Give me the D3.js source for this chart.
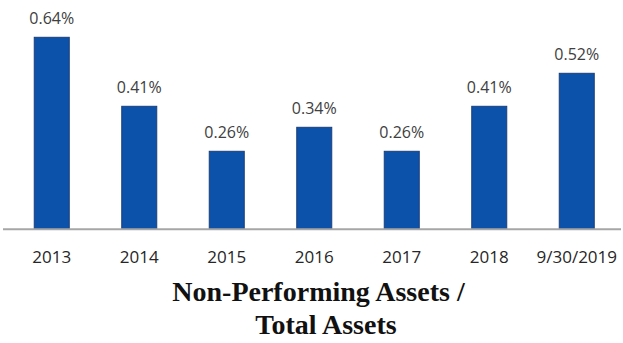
<!DOCTYPE html>
<html>
<head>
<meta charset="utf-8">
<script src="https://cdn.jsdelivr.net/npm/d3@7"></script>
<style>
  html, body { margin: 0; padding: 0; background: #fff; }
  svg { display: block; }
</style>
</head>
<body>
<svg id="chart" width="623" height="343"></svg>
<script>
// Non-performing assets as a share of total assets
const categories = ["2013", "2014", "2015", "2016", "2017", "2018", "9/30/2019"];
const ratios = [0.64, 0.41, 0.26, 0.34, 0.26, 0.41, 0.52];
const titleLines = ["Non-Performing Assets /", "Total Assets"];

const svg = d3.select("#chart");
const baseY = 229.3;

const x = d3.scaleBand()
  .domain(categories)
  .range([8, 620.5])
  .paddingInner(0.6)
  .paddingOuter(0.3);

const y = d3.scaleLinear()
  .domain([0, 0.7])
  .range([baseY, baseY - 0.7 * 300]);

// bars
svg.append("g")
  .selectAll("rect")
  .data(categories)
  .join("rect")
  .attr("x", (d) => x(d))
  .attr("width", x.bandwidth())
  .attr("y", (d, i) => y(ratios[i]))
  .attr("height", (d, i) => y(0) - y(ratios[i]))
  .attr("fill", "#0c52aa")
  .attr("stroke", "#1b3f78")
  .attr("stroke-width", 1);

// value labels
svg.append("g")
  .selectAll("text")
  .data(categories)
  .join("text")
  .attr("x", (d) => x(d) + x.bandwidth() / 2)
  .attr("y", (d, i) => y(ratios[i]) - 13)
  .attr("text-anchor", "middle")
  .attr("font-family", "'Open Sans', sans-serif")
  .attr("font-size", 16)
  .attr("fill", "#404040")
  .text((d, i) => d3.format(".2f")(ratios[i]) + "%");

// category axis
const axis = svg.append("g")
  .attr("transform", `translate(0,${baseY})`)
  .call(d3.axisBottom(x).tickSize(0).tickPadding(22));
axis.select(".domain")
  .attr("d", "M3,0H621")
  .attr("stroke", "#a6a6a6")
  .attr("stroke-width", 2);
axis.selectAll(".tick text")
  .attr("font-family", "'Open Sans', sans-serif")
  .attr("font-size", 17)
  .attr("fill", "#262626");

// title
svg.append("g")
  .selectAll("text")
  .data(titleLines)
  .join("text")
  .attr("x", (d, i) => i === 0 ? 318.5 : 326)
  .attr("y", (d, i) => 301 + i * 33)
  .attr("text-anchor", "middle")
  .attr("font-family", "'Liberation Serif', 'Times New Roman', serif")
  .attr("font-weight", "bold")
  .attr("font-size", 28)
  .attr("fill", "#111")
  .text((d) => d);
</script>
</body>
</html>
